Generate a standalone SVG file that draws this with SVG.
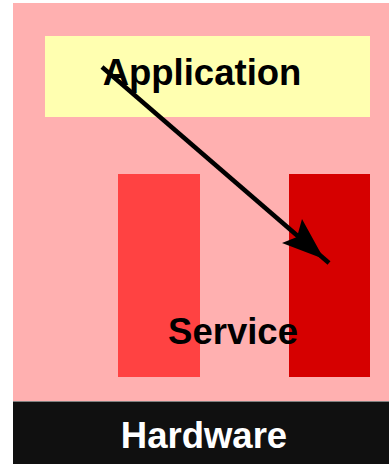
<svg xmlns="http://www.w3.org/2000/svg" width="389" height="464" viewBox="0 0 389 464">
<style>
text{font-family:"Liberation Sans",Arial,sans-serif;font-weight:bold;font-size:36.5px;text-anchor:middle}
</style>
<rect width="389" height="464" fill="#ffffff"/>
<g id="system">
<rect x="13" y="3" width="376" height="398" fill="#ffb0b0"/>
</g>
<g id="application">
<rect x="45" y="36" width="325" height="81" fill="#ffffb0"/>
<text x="202" y="85" fill="#000">Application</text>
</g>
<g id="bar-left">
<rect x="118" y="174" width="82" height="203" fill="#ff4242"/>
</g>
<g id="bar-right">
<rect x="289" y="174" width="81" height="203" fill="#d60000"/>
</g>
<g id="service">
<text x="233" y="344" fill="#000">Service</text>
</g>
<g id="hardware">
<rect x="13" y="401" width="376" height="63" fill="#101010"/>
<line x1="13" y1="401.5" x2="389" y2="401.5" stroke="#808080" stroke-width="1"/>
<text x="204" y="448" fill="#ffffff">Hardware</text>
</g>
<g id="connectors">
<line x1="102" y1="67" x2="329" y2="263" stroke="#000" stroke-width="4.5"/>
<polygon points="324,259 282,243 297,237 302,219" fill="#000"/>
</g>
</svg>
